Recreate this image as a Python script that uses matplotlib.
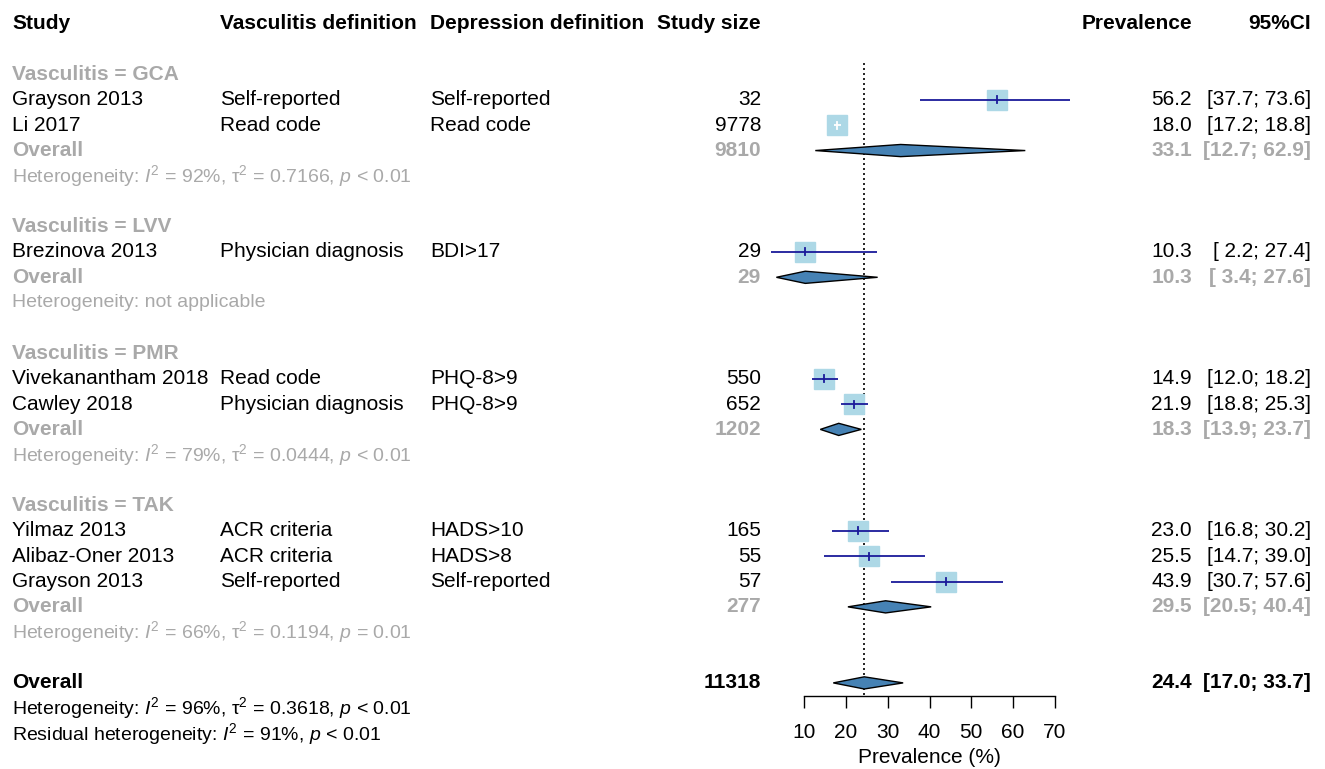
import matplotlib
matplotlib.use("Agg")
import matplotlib.pyplot as plt
from matplotlib import transforms
from matplotlib.patches import Polygon

plt.rcParams['font.family'] = ['Liberation Sans', 'DejaVu Sans']
plt.rcParams['mathtext.fontset'] = 'custom'
plt.rcParams['mathtext.rm'] = 'Liberation Sans'
plt.rcParams['mathtext.it'] = 'Liberation Sans:italic'
plt.rcParams['mathtext.bf'] = 'Liberation Sans:bold'

# ---------------- data ----------------
studies = ["Grayson 2013", "Li 2017", "Brezinova 2013", "Vivekanantham 2018",
           "Cawley 2018", "Yilmaz 2013", "Alibaz-Oner 2013", "Grayson 2013"]
groups = ["GCA", "GCA", "LVV", "PMR", "PMR", "TAK", "TAK", "TAK"]
vasc_def = ["Self-reported", "Read code", "Physician diagnosis", "Read code",
            "Physician diagnosis", "ACR criteria", "ACR criteria", "Self-reported"]
dep_def = ["Self-reported", "Read code", "BDI>17", "PHQ-8>9", "PHQ-8>9",
           "HADS>10", "HADS>8", "Self-reported"]
study_n = [32, 9778, 29, 550, 652, 165, 55, 57]
prev = [56.2, 18.0, 10.3, 14.9, 21.9, 23.0, 25.5, 43.9]
ci_lo = [37.7, 17.2, 2.2, 12.0, 18.8, 16.8, 14.7, 30.7]
ci_hi = [73.6, 18.8, 27.4, 18.2, 25.3, 30.2, 39.0, 57.6]

group_names = ["GCA", "LVV", "PMR", "TAK"]
group_n = [9810, 29, 1202, 277]
group_prev = [33.1, 10.3, 18.3, 29.5]
group_lo = [12.7, 3.4, 13.9, 20.5]
group_hi = [62.9, 27.6, 23.7, 40.4]
group_het = ["Heterogeneity: $I^2$ = 92%, τ$^2$ = 0.7166, $p$ < 0.01",
             "Heterogeneity: not applicable",
             "Heterogeneity: $I^2$ = 79%, τ$^2$ = 0.0444, $p$ < 0.01",
             "Heterogeneity: $I^2$ = 66%, τ$^2$ = 0.1194, $p$ = 0.01"]

overall_n = 11318
overall_prev = 24.4
overall_lo = 17.0
overall_hi = 33.7
overall_het = "Heterogeneity: $I^2$ = 96%, τ$^2$ = 0.3618, $p$ < 0.01"
resid_het = "Residual heterogeneity: $I^2$ = 91%, $p$ < 0.01"

xticks = [10, 20, 30, 40, 50, 60, 70]
headers = ["Study", "Vasculitis definition", "Depression definition",
           "Study size", "Prevalence", "95%CI"]

# ---------------- layout ----------------
W, H = 1325, 769
DPI = 100
fig = plt.figure(figsize=(W / DPI, H / DPI), dpi=DPI)
fig.patch.set_facecolor("white")

# x scale: 10 -> px 804, 70 -> px 1055
px_per = (1055 - 804) / 60.0
x_left = 10 - 804 / px_per
x_right = 10 + (W - 804) / px_per
row0_px, row_px = 23.8, 25.35
y_top = -row0_px / row_px
y_bot = (H - row0_px) / row_px

ax = fig.add_axes([0, 0, 1, 1])
ax.set_xlim(x_left, x_right)
ax.set_ylim(y_bot, y_top)
ax.axis("off")

tx = transforms.blended_transform_factory(fig.transFigure, ax.transData)
FS = 15
FS_HET = 14
GRAY = "#A9A9A9"
COL_STUDY, COL_VAS, COL_DEP, COL_N, COL_PREV, COL_CI = 12, 220, 430, 761, 1192, 1311


def put(xpx, row, s, ha="left", color="black", bold=False, fs=FS):
    ax.text(xpx / W, row, s, transform=tx, ha=ha, va="center", fontsize=fs,
            color=color, fontweight="bold" if bold else "normal")


def ci_txt(lo, hi):
    return "[%4.1f; %4.1f]" % (lo, hi)


# headers
for xpx, h, ha in zip([COL_STUDY, COL_VAS, COL_DEP, COL_N, COL_PREV, COL_CI], headers,
                      ["left", "left", "left", "right", "right", "right"]):
    put(xpx, 0, h, ha=ha, bold=True)

SQ_PT = 14  # square side in points
sq_units = SQ_PT * DPI / 72 / px_per
diamond_half = 0.24


def diamond(est, lo, hi, row):
    poly = Polygon([[lo, row], [est, row - diamond_half], [hi, row], [est, row + diamond_half]],
                   closed=True, facecolor="#4682B4", edgecolor="black", lw=1.0, zorder=4)
    ax.add_patch(poly)


row = 2
for g, gname in enumerate(group_names):
    put(COL_STUDY, row, "Vasculitis = " + gname, color=GRAY, bold=True)
    row += 1
    for i in range(len(studies)):
        if groups[i] != gname:
            continue
        put(COL_STUDY, row, studies[i])
        put(COL_VAS, row, vasc_def[i])
        put(COL_DEP, row, dep_def[i])
        put(COL_N, row, str(study_n[i]), ha="right")
        put(COL_PREV, row, "%.1f" % prev[i], ha="right")
        put(COL_CI, row, ci_txt(ci_lo[i], ci_hi[i]), ha="right")
        ax.plot([prev[i]], [row], marker="s", ms=SQ_PT, color="#ADD8E6",
                mec="#ADD8E6", zorder=3)
        inside = (ci_hi[i] - ci_lo[i]) < sq_units
        lc = "white" if inside else "#1A1A9A"
        ax.plot([ci_lo[i], ci_hi[i]], [row, row], color=lc, lw=1.3, zorder=4,
                solid_capstyle="butt")
        ax.plot([prev[i], prev[i]], [row - 0.14, row + 0.14], color=lc, lw=1.3, zorder=4)
        row += 1
    put(COL_STUDY, row, "Overall", color=GRAY, bold=True)
    put(COL_N, row, str(group_n[g]), ha="right", color=GRAY, bold=True)
    put(COL_PREV, row, "%.1f" % group_prev[g], ha="right", color=GRAY, bold=True)
    put(COL_CI, row, ci_txt(group_lo[g], group_hi[g]), ha="right", color=GRAY, bold=True)
    diamond(group_prev[g], group_lo[g], group_hi[g], row)
    row += 1
    put(COL_STUDY, row, group_het[g], color=GRAY, fs=FS_HET)
    row += 2

# overall
put(COL_STUDY, row, "Overall", bold=True)
put(COL_N, row, str(overall_n), ha="right", bold=True)
put(COL_PREV, row, "%.1f" % overall_prev, ha="right", bold=True)
put(COL_CI, row, ci_txt(overall_lo, overall_hi), ha="right", bold=True)
diamond(overall_prev, overall_lo, overall_hi, row)
axis_row = row + 0.5
put(COL_STUDY, row + 1, overall_het, fs=FS_HET)
put(COL_STUDY, row + 2, resid_het, fs=FS_HET)

# reference line
ax.plot([overall_prev, overall_prev], [1.53, axis_row], color="black", lw=1.2,
        ls=(0, (1.2, 1.8)), zorder=2)

# x axis
ax_y = 1 - (row0_px + axis_row * row_px) / H
axx = fig.add_axes([804 / W, ax_y, (1055 - 804) / W, 0.0001])
axx.set_xlim(10, 70)
axx.set_facecolor("none")
for s in ["left", "right", "top"]:
    axx.spines[s].set_visible(False)
axx.spines["bottom"].set_linewidth(1.0)
axx.set_yticks([])
axx.set_xticks(xticks)
axx.set_xticklabels([str(t) for t in xticks])
axx.tick_params(axis="x", direction="out", length=8.6, width=1.0, pad=11.5, labelsize=FS)
axx.set_xlabel("Prevalence (%)", fontsize=FS, labelpad=4)

fig.savefig("out.png", dpi=DPI, facecolor="white")
